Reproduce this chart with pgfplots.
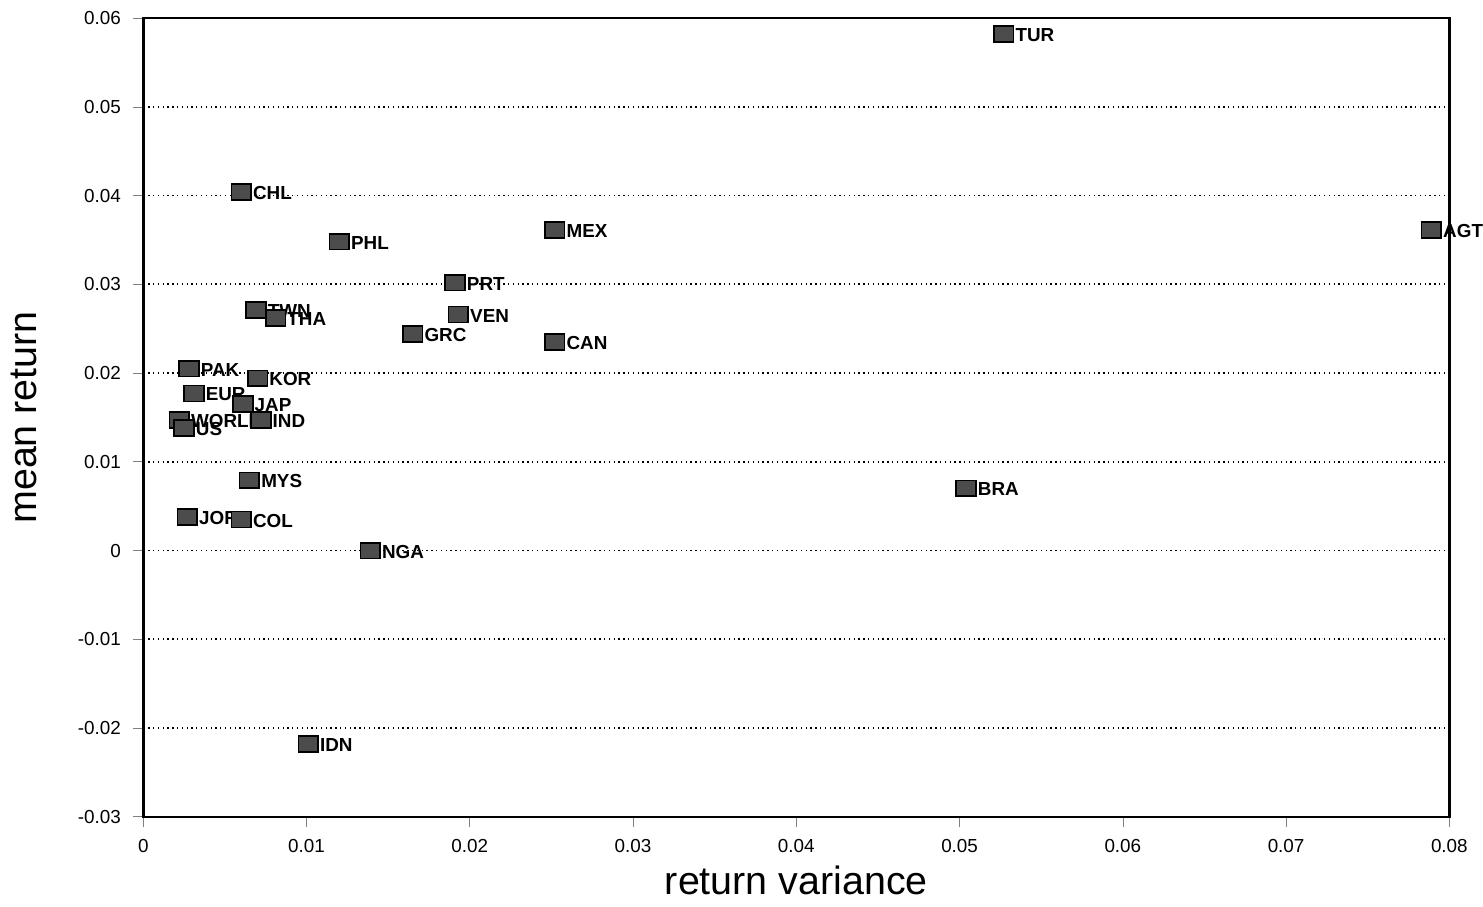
\documentclass[border=0pt]{standalone}
\usepackage{fontspec}
\setmainfont{Liberation Sans}
\usepackage{pgfplots}
\usepackage{pgfplotstable}
\pgfplotsset{compat=1.18}

\pgfplotstableread{
x y name
0.0527 0.0582 TUR
0.0789 0.0361 AGT
0.0060 0.0404 CHL
0.0120 0.0348 PHL
0.0252 0.0361 MEX
0.0191 0.0302 PRT
0.0193 0.0266 VEN
0.0165 0.0244 GRC
0.0252 0.0235 CAN
0.0069 0.0271 TWN
0.0081 0.0262 THA
0.0028 0.0205 PAK
0.0070 0.0194 KOR
0.0031 0.0177 EUR
0.0061 0.0165 JAP
0.0022 0.0147 WORLD
0.0025 0.0138 US
0.0072 0.0147 IND
0.0065 0.0079 MYS
0.0504 0.0070 BRA
0.0027 0.0038 JOR
0.0060 0.0035 COL
0.0139 0.0000 NGA
0.0101 -0.0218 IDN
}\points

\begin{document}
\begin{tikzpicture}
\begin{axis}[
    scale only axis, width=381pt, height=233pt,
    xmin=0, xmax=0.08, ymin=-0.03, ymax=0.06,
    scaled ticks=false,
    xtick={0,0.01,...,0.08}, ytick={-0.03,-0.02,...,0.06},
    xticklabels={0,0.01,0.02,0.03,0.04,0.05,0.06,0.07,0.08},
    yticklabels={-0.03,-0.02,-0.01,0,0.01,0.02,0.03,0.04,0.05,0.06},
    tick align=outside, tick pos=left, major tick length=3pt,
    tick label style={font=\fontsize{5.5}{6}\selectfont},
    ymajorgrids, grid style={black, densely dotted, line width=0.5pt},
    axis line style={line width=0.7pt},
    xlabel={return variance}, ylabel={mean return},
    label style={font=\fontsize{11.5}{13}\selectfont},
    xlabel style={yshift=3pt}, ylabel style={yshift=5pt},
    clip=false,
]
\addplot[only marks, mark=square*, mark size=2.3pt,
    mark options={fill=black!70, draw=black, line width=0.5pt, xscale=1.25},
    point meta=explicit symbolic,
    nodes near coords,
    nodes near coords style={anchor=west, xshift=3.2pt, yshift=-0.3pt, inner sep=0pt,
        font=\fontsize{5.5}{6.5}\selectfont\bfseries, text=black},
] table[x=x, y=y, meta=name] {\points};
\end{axis}
\end{tikzpicture}
\end{document}
